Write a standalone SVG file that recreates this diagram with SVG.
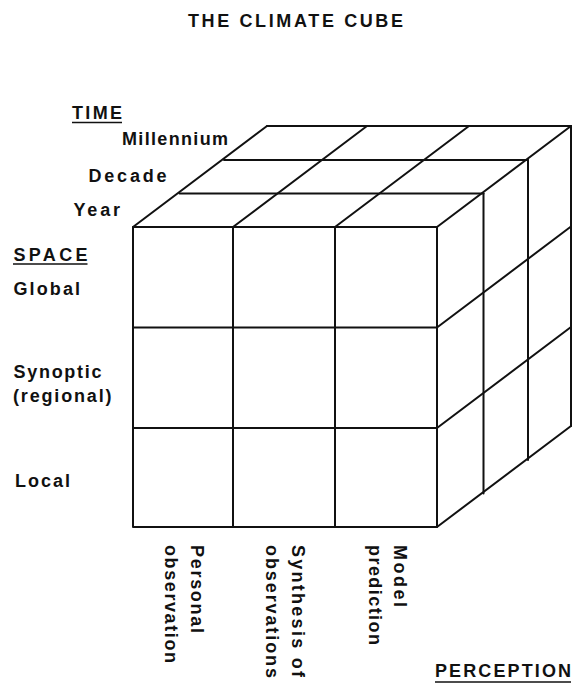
<svg xmlns="http://www.w3.org/2000/svg" width="574" height="683" viewBox="0 0 574 683">
<style>
.t{font-family:"Liberation Sans",Arial,Helvetica,sans-serif;font-weight:bold;font-size:18px;fill:#111}
.e{stroke:#111;stroke-width:2;fill:none;stroke-linecap:round;stroke-linejoin:round}
.u{stroke:#111;stroke-width:1.6}
</style>
<rect width="574" height="683" fill="#fff"/>
<g id="title"><text class="t" x="188" y="26.5" textLength="215" lengthAdjust="spacing">THE CLIMATE CUBE</text></g>
<g id="time-labels">
<text class="t" x="72" y="119" textLength="50" lengthAdjust="spacing">TIME</text>
<line class="u" x1="72" y1="122.5" x2="122" y2="122.5"/>
<text class="t" x="122" y="145" textLength="106" lengthAdjust="spacing">Millennium</text>
<text class="t" x="88.5" y="181.5" textLength="78" lengthAdjust="spacing">Decade</text>
<text class="t" x="73.5" y="216" textLength="46.5" lengthAdjust="spacing">Year</text>
</g>
<g id="space-labels">
<text class="t" x="13.5" y="260.5" textLength="74" lengthAdjust="spacing">SPACE</text>
<line class="u" x1="13" y1="264" x2="87.5" y2="264"/>
<text class="t" x="13.5" y="295" textLength="66.5" lengthAdjust="spacing">Global</text>
<text class="t" x="13.5" y="378" textLength="88" lengthAdjust="spacing">Synoptic</text>
<text class="t" x="13" y="401.5" textLength="98.5" lengthAdjust="spacing">(regional)</text>
<text class="t" x="15" y="486.5" textLength="55" lengthAdjust="spacing">Local</text>
</g>
<g id="perception-labels">
<text class="t" transform="translate(191,545) rotate(90)" textLength="88" lengthAdjust="spacing">Personal</text>
<text class="t" transform="translate(165,545) rotate(90)" textLength="118" lengthAdjust="spacing">observation</text>
<text class="t" transform="translate(292,545) rotate(90)" textLength="132" lengthAdjust="spacing">Synthesis of</text>
<text class="t" transform="translate(266,545) rotate(90)" textLength="133" lengthAdjust="spacing">observations</text>
<text class="t" transform="translate(394,545) rotate(90)" textLength="62" lengthAdjust="spacing">Model</text>
<text class="t" transform="translate(369,545) rotate(90)" textLength="100" lengthAdjust="spacing">prediction</text>
<text class="t" x="435" y="677" textLength="136" lengthAdjust="spacing">PERCEPTION</text>
<line class="u" x1="435" y1="682" x2="571" y2="682"/>
</g>
<g id="cube">
<g id="front-face" class="e">
<rect x="133" y="227" width="304" height="300"/>
<line x1="233" y1="227" x2="233" y2="527"/>
<line x1="335" y1="227" x2="335" y2="527"/>
<line x1="133" y1="327.5" x2="437" y2="327.5"/>
<line x1="133" y1="428" x2="437" y2="428"/>
</g>
<g id="top-face" class="e">
<line x1="133" y1="227" x2="267" y2="126"/>
<line x1="233" y1="227" x2="367" y2="126"/>
<line x1="335" y1="227" x2="469" y2="126"/>
<line x1="437" y1="227" x2="571" y2="126"/>
<line x1="179.5" y1="193.5" x2="483.5" y2="193.5"/>
<line x1="224" y1="160" x2="528" y2="160"/>
<line x1="267" y1="126" x2="571" y2="126"/>
</g>
<g id="right-face" class="e">
<line x1="437" y1="327.5" x2="571" y2="226.5"/>
<line x1="437" y1="428" x2="571" y2="327"/>
<line x1="437" y1="527" x2="571" y2="426"/>
<line x1="483.5" y1="193.5" x2="483.5" y2="493.5"/>
<line x1="528" y1="160" x2="528" y2="460"/>
<line x1="571" y1="126" x2="571" y2="426"/>
</g>
</g>
</svg>
